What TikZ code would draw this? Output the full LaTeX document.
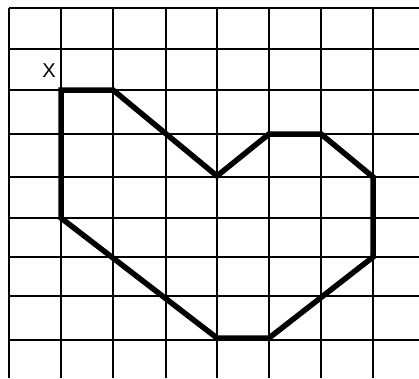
\documentclass[tikz,border=0pt]{standalone}
\usepackage{fontspec}
\setmainfont{Liberation Sans}
\begin{document}
\begin{tikzpicture}[x=1pt,y=-1pt,
  gridline/.style={black,line width=1.7pt},
  outline/.style={black,line width=5.5pt,line join=miter,line cap=butt},
  lbl/.style={font=\fontsize{20}{20}\selectfont,inner sep=0pt}]
\useasboundingbox (0,0) rectangle (419,378);
\fill[white] (0,0) rectangle (419,378);
\foreach \x in {9,61,113,166,217,269,321,373}
  \draw[gridline] (\x,8) -- (\x,378);
\foreach \y in {8,49,90,134,177,218,257,296,340}
  \draw[gridline] (9,\y) -- (419,\y);
\coordinate (p1) at (61,90);
\coordinate (p2) at (113,90);
\coordinate (p3) at (217,176);
\coordinate (p4) at (269,134);
\coordinate (p5) at (321,134);
\coordinate (p6) at (373,177);
\coordinate (p7) at (373,257);
\coordinate (p8) at (269,338);
\coordinate (p9) at (217,338);
\coordinate (p10) at (61,218);
\draw[outline] (p1) -- (p2) -- (p3) -- (p4) -- (p5) -- (p6) -- (p7) -- (p8) -- (p9) -- (p10) -- cycle;
\node[lbl] (xl) at (49,71) {X};
\end{tikzpicture}
\end{document}
